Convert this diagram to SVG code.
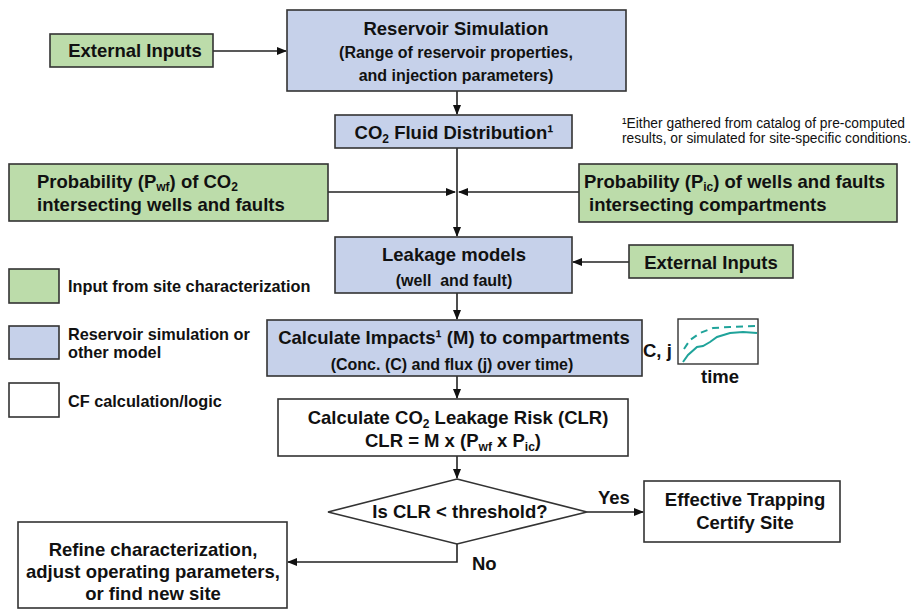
<svg xmlns="http://www.w3.org/2000/svg" width="914" height="610" viewBox="0 0 914 610">
<defs>
<style>
text{font-family:"Liberation Sans",Arial,sans-serif;font-weight:bold;fill:#111}
.g{fill:#bcdcaa;stroke:#333;stroke-width:1.6}
.b{fill:#c6d1ea;stroke:#333;stroke-width:1.6}
.w{fill:#fff;stroke:#333;stroke-width:1.6}
.t{font-size:18.5px}
.s{font-size:16px}
.l{font-size:16.3px}
.f{font-size:13.8px;font-weight:normal}
.c{text-anchor:middle}
.sub{font-size:12px}
.conn path,.conn line{stroke:#222;stroke-width:1.6;fill:none}
.teal{stroke:#1fa39a;stroke-width:2;fill:none}
</style>
<marker id="ah" markerWidth="10" markerHeight="8" refX="9" refY="4" orient="auto" markerUnits="userSpaceOnUse">
<path d="M0,0 L10,4 L0,8 Z" fill="#111"/>
</marker>
</defs>
<rect width="914" height="610" fill="#fff"/>

<g class="conn">
<line x1="213" y1="51" x2="286" y2="51" marker-end="url(#ah)"/>
<line x1="457" y1="91" x2="457" y2="114" marker-end="url(#ah)"/>
<line x1="457" y1="148" x2="457" y2="236" marker-end="url(#ah)"/>
<line x1="328" y1="192" x2="455" y2="192" marker-end="url(#ah)"/>
<line x1="579" y1="192" x2="459" y2="192" marker-end="url(#ah)"/>
<line x1="629" y1="262" x2="573" y2="262" marker-end="url(#ah)"/>
<line x1="457" y1="293" x2="457" y2="319" marker-end="url(#ah)"/>
<line x1="457" y1="376" x2="457" y2="398" marker-end="url(#ah)"/>
<line x1="457" y1="456" x2="457" y2="478" marker-end="url(#ah)"/>
<line x1="587" y1="512" x2="643" y2="512" marker-end="url(#ah)"/>
<path d="M457,544 V562 H288" marker-end="url(#ah)"/>
</g>

<g id="ext1">
<rect class="g" x="50" y="34" width="163" height="33"/>
<text class="t c" x="135" y="57">External Inputs</text>
</g>

<g id="ressim">
<rect class="b" x="287" y="10" width="339" height="81"/>
<text class="t c" x="456" y="35">Reservoir Simulation</text>
<text class="s c" x="456" y="58">(Range of reservoir properties,</text>
<text class="s c" x="456" y="81">and injection parameters)</text>
</g>

<g id="co2dist">
<rect class="b" x="335" y="115" width="237" height="33"/>
<text class="t c" x="454" y="139">CO<tspan class="sub" dy="4">2</tspan><tspan dy="-4"> Fluid Distribution¹</tspan></text>
</g>

<g id="footnote">
<text class="f" x="622" y="128">¹Either gathered from catalog of pre-computed</text>
<text class="f" x="622" y="143">results, or simulated for site-specific conditions.</text>
</g>

<g id="pwf">
<rect class="g" x="9" y="164" width="319" height="57"/>
<text class="t" x="37" y="188">Probability (P<tspan class="sub" dy="3">wf</tspan><tspan dy="-3">) of CO</tspan><tspan class="sub" dy="3">2</tspan></text>
<text class="t" x="37" y="211">intersecting wells and faults</text>
</g>

<g id="pic">
<rect class="g" x="579" y="164" width="318" height="58"/>
<text class="t" x="584" y="188">Probability (P<tspan class="sub" dy="3">ic</tspan><tspan dy="-3">) of wells and faults</tspan></text>
<text class="t" x="589" y="211">intersecting compartments</text>
</g>

<g id="leakage">
<rect class="b" x="335" y="237" width="237" height="56"/>
<text class="t c" x="454" y="261">Leakage models</text>
<text class="s c" x="454" y="286" xml:space="preserve">(well  and fault)</text>
</g>

<g id="ext2">
<rect class="g" x="629" y="245" width="164" height="33"/>
<text class="t c" x="711" y="269">External Inputs</text>
</g>

<g id="legend">
<rect class="g" x="9" y="269" width="50" height="34"/>
<text class="l" x="68" y="292">Input from site characterization</text>
<rect class="b" x="9" y="326" width="50" height="33"/>
<text class="l" x="68" y="340">Reservoir simulation or</text>
<text class="l" x="68" y="358">other model</text>
<rect class="w" x="9" y="383" width="50" height="34"/>
<text class="l" x="68" y="407">CF calculation/logic</text>
</g>

<g id="impacts">
<rect class="b" x="267" y="320" width="375" height="56"/>
<text class="t c" x="454" y="344">Calculate Impacts¹ (M) to compartments</text>
<text class="s c" x="452" y="370">(Conc. (C) and flux (j) over time)</text>
</g>

<g id="chart">
<text class="t" x="643" y="357">C, j</text>
<rect x="678" y="319" width="80" height="45" fill="#fff" stroke="#333" stroke-width="1.4"/>
<path class="teal" d="M683,362 L688,355 L697,347 L703,346 L710,342 L717,337 L730,333 L743,332 L757,333"/>
<path class="teal" stroke-dasharray="7,5" d="M684,349 L690,340 L700,333 L713,328 L730,327 L757,326"/>
<text class="t c" x="720" y="383">time</text>
</g>

<g id="clr">
<rect class="w" x="278" y="399" width="350" height="57"/>
<text class="t c" x="458" y="424">Calculate CO<tspan class="sub" dy="4">2</tspan><tspan dy="-4"> Leakage Risk (CLR)</tspan></text>
<text class="t c" x="453" y="447">CLR = M x (P<tspan class="sub" dy="4">wf</tspan><tspan dy="-4"> x P</tspan><tspan class="sub" dy="4">ic</tspan><tspan dy="-4">)</tspan></text>
</g>

<g id="decision">
<polygon points="457,479 587,512 457,544 328,512" fill="#fff" stroke="#333" stroke-width="1.6"/>
<text class="t c" x="460" y="518">Is CLR &lt; threshold?</text>
</g>

<g id="labels">
<text class="t" x="598" y="504">Yes</text>
<text class="t" x="472" y="570">No</text>
</g>

<g id="certify">
<rect class="w" x="644" y="481" width="196" height="61"/>
<text class="t c" x="745" y="506">Effective Trapping</text>
<text class="t c" x="745" y="529">Certify Site</text>
</g>

<g id="refine">
<rect class="w" x="18" y="522" width="269" height="86"/>
<text class="t c" x="153" y="556">Refine characterization,</text>
<text class="t c" x="153" y="578">adjust operating parameters,</text>
<text class="t c" x="153" y="600">or find new site</text>
</g>
</svg>
